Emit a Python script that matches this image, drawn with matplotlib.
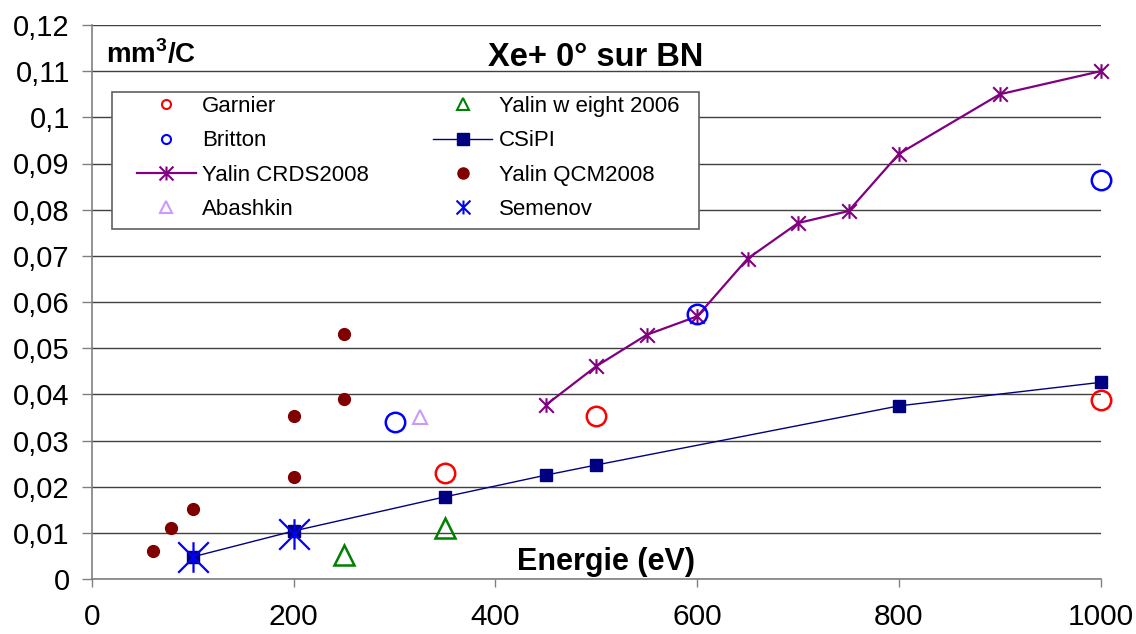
import numpy as np
import matplotlib
matplotlib.use("Agg")
import matplotlib.pyplot as plt
from matplotlib.path import Path
from matplotlib.lines import Line2D
from matplotlib.patches import Rectangle

plt.rcParams['font.family'] = ['Liberation Sans', 'DejaVu Sans']
plt.rcParams['mathtext.fontset'] = 'custom'
plt.rcParams['mathtext.rm'] = 'Liberation Sans'
plt.rcParams['mathtext.bf'] = 'Liberation Sans:bold'

# data (energy in eV, yield in mm3/C)
garnier_x = [350, 500, 1000]
garnier_y = [0.0229, 0.0352, 0.0388]
britton_x = [300, 600, 1000]
britton_y = [0.0339, 0.0573, 0.0865]
crds_x = [450, 500, 550, 600, 650, 700, 750, 800, 900, 1000]
crds_y = [0.0377, 0.0461, 0.0529, 0.0569, 0.0694, 0.0771, 0.0797, 0.0921, 0.105, 0.110]
abashkin_x = [325]
abashkin_y = [0.035]
weight_x = [250, 350]
weight_y = [0.0053, 0.0111]
csipi_x = [100, 200, 350, 450, 500, 800, 1000]
csipi_y = [0.0048, 0.0104, 0.0178, 0.0225, 0.0247, 0.0375, 0.0426]
qcm_x = [60, 78, 100, 200, 200, 250, 250]
qcm_y = [0.0061, 0.011, 0.0152, 0.0352, 0.022, 0.0389, 0.0531]
semenov_x = [100, 200]
semenov_y = [0.0048, 0.0097]

xticks = [0, 200, 400, 600, 800, 1000]
yticks = [0, 0.01, 0.02, 0.03, 0.04, 0.05, 0.06, 0.07, 0.08, 0.09, 0.1, 0.11, 0.12]
ylabels = [("%g" % v).replace(".", ",") for v in yticks]

# excel style asterisk: vertical bar + X
star = Path([(0, -1), (0, 1), (-1, -1), (1, 1), (-1, 1), (1, -1)],
            [Path.MOVETO, Path.LINETO] * 3)

RED = '#FF0000'
BLUE = '#0000FF'
PURPLE = '#800080'
LILAC = '#CC99FF'
GREEN = '#008000'
NAVY = '#000080'
DKRED = '#800000'

fig = plt.figure(figsize=(11.36, 6.34), dpi=100)
ax = fig.add_axes([92/1136, 55/634, 1008.7/1136, 554/634])

ax.plot(csipi_x, csipi_y, color=NAVY, lw=1.0, marker='s', ms=8.5, clip_on=False, zorder=3)
ax.plot(crds_x, crds_y, color=PURPLE, lw=1.6, marker=star, ms=10.5, mew=1.5, fillstyle='none', clip_on=False, zorder=3)
ax.plot(garnier_x, garnier_y, ls='none', marker='o', ms=14, mfc='none', mec=RED, mew=1.8, clip_on=False, zorder=4)
ax.plot(britton_x, britton_y, ls='none', marker='o', ms=14, mfc='none', mec=BLUE, mew=1.8, clip_on=False, zorder=4)
ax.plot(abashkin_x, abashkin_y, ls='none', marker='^', ms=9.5, mfc='none', mec=LILAC, mew=1.5, clip_on=False, zorder=4)
ax.plot(weight_x, weight_y, ls='none', marker='^', ms=15, mfc='none', mec=GREEN, mew=1.8, clip_on=False, zorder=4)
ax.plot(qcm_x, qcm_y, ls='none', marker='o', ms=8.5, color=DKRED, clip_on=False, zorder=4)
ax.plot(semenov_x, semenov_y, ls='none', marker=star, ms=22, mew=1.6, color=BLUE, fillstyle='none', clip_on=False, zorder=5)

ax.set_xlim(0, 1000)
ax.set_ylim(0, 0.12)
ax.set_xticks(xticks)
ax.set_yticks(yticks)
ax.set_yticklabels(ylabels)
ax.tick_params(axis='x', direction='out', length=6, width=1, color='#808080', labelsize=21.5, pad=11)
ax.tick_params(axis='y', direction='out', length=7, width=1, color='#808080', labelsize=21, pad=9)
ax.yaxis.grid(True, color='#404040', lw=1.0)
ax.set_axisbelow(True)
for s in ['top', 'right']:
    ax.spines[s].set_visible(False)
for s in ['left', 'bottom']:
    ax.spines[s].set_color('#808080')
    ax.spines[s].set_linewidth(1.2)

ax.text(0.499, 0.926, "Xe+ 0° sur BN", transform=ax.transAxes, ha='center', va='baseline',
        fontsize=23.5, fontweight='bold')
ax.text(0.014, 0.931, r"mm$^{\mathbf{3}}$/C", transform=ax.transAxes, ha='left', va='baseline',
        fontsize=20, fontweight='bold')
ax.text(0.4213, 0.0162, "Energie (eV)", transform=ax.transAxes, ha='left', va='baseline',
        fontsize=22, fontweight='bold')

# legend box (excel style, wide left padding)
box = Rectangle((112/1136, (634-229)/634), 587/1136, 137/634, transform=fig.transFigure,
                facecolor='white', edgecolor='#606060', lw=1.2, zorder=6)
ax.add_patch(box)

handles = [
    Line2D([], [], ls='none', marker='o', ms=6.5, mfc='none', mec=RED, mew=1.5),
    Line2D([], [], ls='none', marker='o', ms=6.5, mfc='none', mec=BLUE, mew=1.5),
    Line2D([], [], color=PURPLE, lw=1.6, marker=star, ms=10, mew=1.5, fillstyle='none'),
    Line2D([], [], ls='none', marker='^', ms=9, mfc='none', mec=LILAC, mew=1.5),
    Line2D([], [], ls='none', marker='^', ms=9, mfc='none', mec=GREEN, mew=1.5),
    Line2D([], [], color=NAVY, lw=1.0, marker='s', ms=8.5),
    Line2D([], [], ls='none', marker='o', ms=8, color=DKRED),
    Line2D([], [], ls='none', marker=star, ms=10, mew=1.5, color=BLUE, fillstyle='none'),
]
labels = ["Garnier", "Britton", "Yalin CRDS2008", "Abashkin",
          "Yalin w eight 2006", "CSiPI", "Yalin QCM2008", "Semenov"]
leg = ax.legend(handles, labels, ncol=2, loc='upper left',
                bbox_to_anchor=(137/1136, (634-96)/634), bbox_transform=fig.transFigure,
                frameon=False, fontsize=16, borderpad=0, borderaxespad=0,
                handlelength=2.65, handletextpad=0.28, columnspacing=2.9, labelspacing=0.6)
leg.set_zorder(7)

fig.savefig("out.png", dpi=100)
